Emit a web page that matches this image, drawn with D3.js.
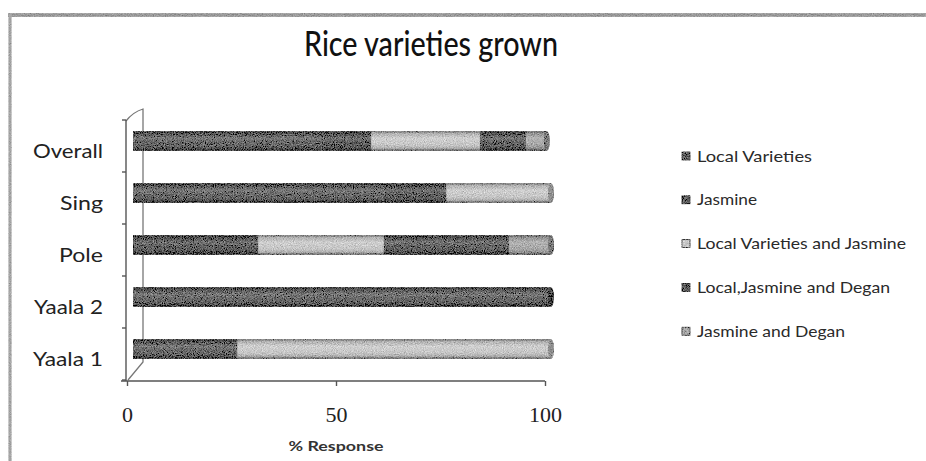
<!DOCTYPE html>
<html>
<head>
<meta charset="utf-8">
<script src="https://cdn.jsdelivr.net/npm/d3@7/dist/d3.min.js"></script>
<style>
  html, body { margin: 0; padding: 0; background: #fff; }
  svg { display: block; }
</style>
</head>
<body>
<svg id="chart" width="926" height="461"></svg>
<script>
// Villages, listed top to bottom as drawn
const categories = ["Overall", "Sing", "Pole", "Yaala 2", "Yaala 1"];

// % of responses per rice variety group, same order as categories
const localVarieties    = [45, 60,  0, 100, 25];
const jasmine           = [12, 15, 30,   0,  0];
const localAndJasmine   = [26, 25, 30,   0, 75];
const localJasmineDegan = [11,  0, 30,   0,  0];
const jasmineDegan      = [ 5,  0, 10,   0,  0];

const seriesNames = [
  "Local Varieties",
  "Jasmine",
  "Local Varieties and Jasmine",
  "Local,Jasmine and Degan",
  "Jasmine and Degan"
];
const xTicks = [0, 50, 100];

const seriesValues = [localVarieties, jasmine, localAndJasmine, localJasmineDegan, jasmineDegan];
const colors = ["#656565", "#5d5d5d", "#c8c8c8", "#606060", "#a8a8a8"];
const legendWidths = [115, 60, 209, 193, 148];

const rows = categories.map((c, i) => {
  const r = { cat: c };
  seriesNames.forEach((s, j) => { r[s] = seriesValues[j][i]; });
  return r;
});

const svg = d3.select("#chart");
const defs = svg.append("defs");

// scan-like grain for the cylinders and frame
function makeGrain(id, strength) {
  const f = defs.append("filter").attr("id", id)
    .attr("filterUnits", "userSpaceOnUse")
    .attr("x", 0).attr("y", 0).attr("width", 926).attr("height", 461);
  f.append("feTurbulence").attr("type", "fractalNoise")
    .attr("baseFrequency", 0.9).attr("numOctaves", 2).attr("seed", 7).attr("result", "n");
  f.append("feColorMatrix").attr("in", "n").attr("type", "matrix")
    .attr("values", "0.33 0.33 0.33 0 0  0.33 0.33 0.33 0 0  0.33 0.33 0.33 0 0  0 0 0 0 1")
    .attr("result", "g");
  f.append("feComposite").attr("in", "SourceGraphic").attr("in2", "g")
    .attr("operator", "arithmetic").attr("k1", 0).attr("k2", 1)
    .attr("k3", strength).attr("k4", -strength / 2)
    .attr("result", "mix");
  f.append("feComposite").attr("in", "mix").attr("in2", "SourceAlpha").attr("operator", "in");
}
makeGrain("grain", 1.1);
makeGrain("grainSoft", 0.7);

// cylinder shading
const shade = defs.append("linearGradient").attr("id", "shade")
  .attr("x1", 0).attr("y1", 0).attr("x2", 0).attr("y2", 1);
[[0, "#000", 0.45], [0.12, "#000", 0.1], [0.35, "#fff", 0.15], [0.6, "#fff", 0.02], [0.88, "#000", 0.15], [1, "#000", 0.55]]
  .forEach(([o, c, a]) => shade.append("stop").attr("offset", o).attr("stop-color", c).attr("stop-opacity", a));

// frame
const frame = svg.append("g").attr("filter", "url(#grainSoft)");
frame.append("line").attr("x1", 8).attr("x2", 926).attr("y1", 15).attr("y2", 15)
  .attr("stroke", "#9a9a9a").attr("stroke-width", 3.5);
frame.append("line").attr("x1", 10).attr("x2", 10).attr("y1", 14).attr("y2", 461)
  .attr("stroke", "#a5a5a5").attr("stroke-width", 3);

// title
svg.append("text").attr("x", 431).attr("y", 56).attr("text-anchor", "middle")
  .attr("font-family", "Lato, 'Open Sans', sans-serif").attr("font-size", 35)
  .attr("font-weight", 500)
  .attr("textLength", 254).attr("lengthAdjust", "spacingAndGlyphs")
  .attr("fill", "#111").text("Rice varieties grown");

// scales
const x = d3.scaleLinear().domain([0, 100]).range([127, 545]);
const y = d3.scaleBand().domain(categories).range([120, 380]);
const depthX = 6, depthY = -5, barH = 19.5;

// walls of the 3-D frame
const wall = svg.append("g").attr("stroke", "#777").attr("fill", "none").attr("stroke-width", 1.3);
wall.append("path").attr("d", "M126,121 Q133,112 143,109 L143,362 L128,380");

// x axis
const xAxis = svg.append("g").attr("transform", "translate(0,381)")
  .call(d3.axisBottom(x).tickValues(xTicks).tickSize(5).tickSizeOuter(0));
xAxis.select(".domain").remove();
xAxis.append("line").attr("x1", 121).attr("x2", 545).attr("stroke", "#555").attr("stroke-width", 1.4);
xAxis.selectAll(".tick line").attr("stroke", "#555").attr("stroke-width", 1.4);
xAxis.selectAll(".tick text").attr("y", 41).attr("dy", null)
  .attr("font-family", "'Liberation Serif', 'DejaVu Serif', serif").attr("font-size", 22)
  .attr("fill", "#222");

// y axis
const yAxis = svg.append("g").attr("transform", "translate(126,0)")
  .call(d3.axisLeft(y).tickSize(0).tickPadding(23));
yAxis.select(".domain").attr("d", "M0,120V381").attr("stroke", "#555").attr("stroke-width", 1.4);
yAxis.selectAll(".tick text").attr("dy", "0.38em").attr("y", 4)
  .attr("font-family", "Lato, 'Open Sans', sans-serif").attr("font-size", 20).attr("fill", "#222")
  .attr("lengthAdjust", "spacingAndGlyphs")
  .attr("textLength", d => ({ "Overall": 70, "Sing": 43, "Pole": 44, "Yaala 2": 69, "Yaala 1": 70 })[d]);
// band boundary ticks
yAxis.selectAll(".bound").data(d3.range(categories.length + 1)).join("line")
  .attr("class", "bound").attr("x1", -4).attr("x2", 0)
  .attr("y1", i => 120 + i * y.step()).attr("y2", i => 120 + i * y.step())
  .attr("stroke", "#555").attr("stroke-width", 1.4);

// x axis title
svg.append("text").attr("x", 336).attr("y", 451).attr("text-anchor", "middle")
  .attr("font-family", "Lato, 'Open Sans', sans-serif").attr("font-weight", "bold").attr("font-size", 14)
  .attr("textLength", 95).attr("lengthAdjust", "spacingAndGlyphs")
  .attr("fill", "#333").text("% Response");

// stacked cylinders
const stacked = d3.stack().keys(seriesNames)(rows);
const bars = svg.append("g").attr("filter", "url(#grain)");
const barTop = c => y(c) + y.bandwidth() / 2 + depthY - barH / 2;

stacked.forEach((layer, j) => {
  bars.selectAll(null).data(layer.filter(d => d[1] > d[0])).join("rect")
    .attr("x", d => x(d[0]) + depthX)
    .attr("width", d => x(d[1]) - x(d[0]))
    .attr("y", d => barTop(d.data.cat))
    .attr("height", barH)
    .attr("fill", colors[j]);
});

const totals = rows.map(r => {
  let last = 0;
  seriesNames.forEach((s, j) => { if (r[s] > 0) last = j; });
  return { cat: r.cat, total: d3.sum(seriesNames, s => r[s]), last };
});

bars.selectAll(".shade").data(totals).join("rect").attr("class", "shade")
  .attr("x", x(0) + depthX)
  .attr("width", d => x(d.total) - x(0))
  .attr("y", d => barTop(d.cat)).attr("height", barH)
  .attr("fill", "url(#shade)");

bars.selectAll(".cap").data(totals).join("ellipse").attr("class", "cap")
  .attr("cx", d => x(d.total) + depthX)
  .attr("cy", d => barTop(d.cat) + barH / 2)
  .attr("rx", 3).attr("ry", barH / 2)
  .attr("fill", d => d3.color(colors[d.last]).darker(0.9));

// legend
const legend = svg.append("g");
seriesNames.forEach((name, j) => {
  const cy = 156 + j * 43.8;
  legend.append("rect").attr("x", 682).attr("y", cy - 4).attr("width", 8).attr("height", 8)
    .attr("fill", colors[j]).attr("stroke", "#444").attr("stroke-width", 0.8)
    .attr("filter", "url(#grain)");
  legend.append("text").attr("x", 697).attr("y", cy + 5.5)
    .attr("font-family", "Lato, 'Open Sans', sans-serif").attr("font-size", 16)
    .attr("textLength", legendWidths[j]).attr("lengthAdjust", "spacingAndGlyphs")
    .attr("fill", "#2a2a2a").text(name);
});
</script>
</body>
</html>
